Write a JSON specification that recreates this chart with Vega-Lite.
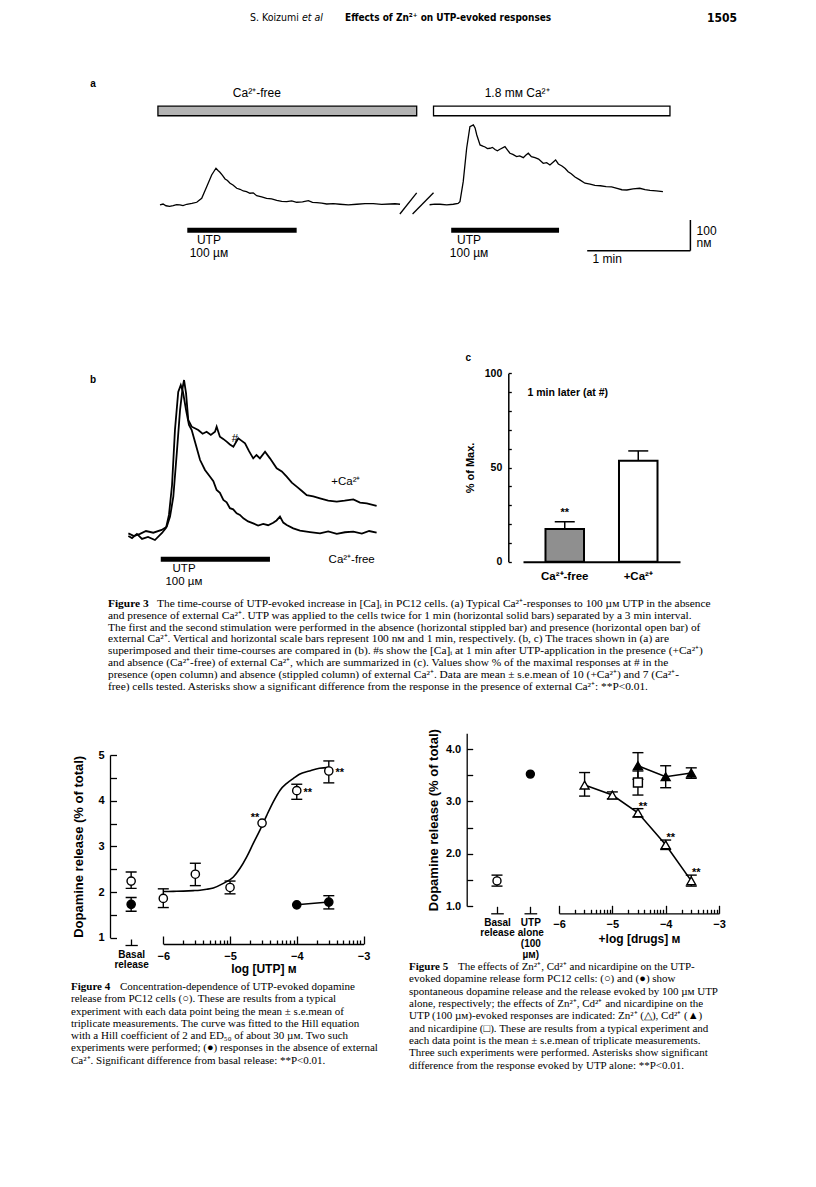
{
"$schema":"https://vega.github.io/schema/vega-lite/v6.json",
"width":816,"height":1187,"autosize":{"type":"none"},"padding":0,"background":"white",
"config":{"view":{"stroke":null},"mark":{"color":"black"},"point":{"opacity":1},"tick":{"opacity":1},
"text":{"font":"Liberation Sans","fontSize":11,"color":"black"},
"axis":{"grid":false,"domainColor":"black","domainWidth":1.3,"tickColor":"black","tickWidth":1.3,"labelColor":"black","labelFont":"Liberation Sans","labelFontWeight":"bold","labelFontSize":11,"titleFont":"Liberation Sans","titleFontWeight":"bold","titleFontSize":12,"titleColor":"black","labelOverlap":false,"labelFlush":false}},
"resolve":{"scale":{"x":"independent","y":"independent","fill":"independent","shape":"independent"},"axis":{"x":"independent","y":"independent"}},
"datasets":{
"tr3a":[
{"s":"1","t":0,"c":78.4},{"s":"1","t":1.8,"c":81.5},{"s":"1","t":3.5,"c":75.8},{"s":"1","t":5.6,"c":73.9},{"s":"1","t":7.7,"c":76.1},{"s":"1","t":9.7,"c":79.5},{"s":"1","t":11.6,"c":78.7},{"s":"1","t":13.4,"c":76.5},{"s":"1","t":15.6,"c":80.7},{"s":"1","t":18.6,"c":83.3},{"s":"1","t":21.4,"c":87.2},{"s":"1","t":24.3,"c":100.2},{"s":"1","t":27.2,"c":138},{"s":"1","t":30.1,"c":176.1},{"s":"1","t":32.6,"c":197.9},{"s":"1","t":33.8,"c":190.7},{"s":"1","t":34.9,"c":184.9},{"s":"1","t":36.4,"c":174.5},{"s":"1","t":37.9,"c":163.1},{"s":"1","t":39.3,"c":158.2},{"s":"1","t":40.8,"c":149.1},{"s":"1","t":42.5,"c":143.5},{"s":"1","t":44.7,"c":132.8},{"s":"1","t":46.6,"c":129.5},{"s":"1","t":48.5,"c":124},{"s":"1","t":50.4,"c":121.8},{"s":"1","t":52.4,"c":116.5},{"s":"1","t":54.3,"c":117.9},{"s":"1","t":56.3,"c":108.7},{"s":"1","t":59.2,"c":104.9},{"s":"1","t":62.1,"c":100.2},{"s":"1","t":65,"c":98.1},{"s":"1","t":68,"c":93.7},{"s":"1","t":70.9,"c":90.4},{"s":"1","t":73.8,"c":89.1},{"s":"1","t":76.7,"c":91.5},{"s":"1","t":79.6,"c":87.2},{"s":"1","t":83,"c":88.6},{"s":"1","t":86.4,"c":92.4},{"s":"1","t":88.8,"c":86.8},{"s":"1","t":91.3,"c":85.9},{"s":"1","t":94.2,"c":84.2},{"s":"1","t":97.1,"c":81.6},{"s":"1","t":101,"c":82.9},{"s":"1","t":104.8,"c":80.7},{"s":"1","t":109.7,"c":78.4},{"s":"1","t":114.6,"c":80.7},{"s":"1","t":119.4,"c":82.9},{"s":"1","t":124.2,"c":82.6},{"s":"1","t":129.1,"c":80.1},{"s":"1","t":134,"c":81.6},{"s":"1","t":136.9,"c":82.4},{"s":"1","t":139.8,"c":80.7},
{"s":"2","t":157,"c":79.1},{"s":"2","t":160,"c":81},{"s":"2","t":163.1,"c":80.7},{"s":"2","t":167,"c":78.9},{"s":"2","t":170.8,"c":80.7},{"s":"2","t":173.6,"c":83.3},{"s":"2","t":174.7,"c":89.1},{"s":"2","t":176.6,"c":154.3},{"s":"2","t":178.6,"c":263.1},{"s":"2","t":180.5,"c":333.4},{"s":"2","t":182.5,"c":339},{"s":"2","t":183.5,"c":329.2},{"s":"2","t":184.5,"c":306.4},{"s":"2","t":186.4,"c":273.8},{"s":"2","t":188,"c":270},{"s":"2","t":189.3,"c":267.3},{"s":"2","t":190.7,"c":262},{"s":"2","t":192.2,"c":263.1},{"s":"2","t":193.6,"c":266},{"s":"2","t":195.1,"c":259.2},{"s":"2","t":196.5,"c":255},{"s":"2","t":198,"c":259.8},{"s":"2","t":200.9,"c":268.3},{"s":"2","t":202.3,"c":258},{"s":"2","t":203.8,"c":246.8},{"s":"2","t":205.5,"c":243},{"s":"2","t":207.7,"c":235.7},{"s":"2","t":209.5,"c":238},{"s":"2","t":211.6,"c":232.4},{"s":"2","t":213,"c":240},{"s":"2","t":214.5,"c":246.8},{"s":"2","t":216.3,"c":236},{"s":"2","t":218.4,"c":232.4},{"s":"2","t":220.5,"c":228},{"s":"2","t":223.2,"c":214.2},{"s":"2","t":225.2,"c":216},{"s":"2","t":227.1,"c":208.7},{"s":"2","t":230.4,"c":225},{"s":"2","t":232,"c":212},{"s":"2","t":234.1,"c":205.4},{"s":"2","t":236,"c":197},{"s":"2","t":237.7,"c":186.8},{"s":"2","t":239.5,"c":180},{"s":"2","t":241.7,"c":169.6},{"s":"2","t":244.5,"c":160},{"s":"2","t":247.5,"c":149.1},{"s":"2","t":250.5,"c":146},{"s":"2","t":253.3,"c":141.9},{"s":"2","t":256.5,"c":141},{"s":"2","t":259.8,"c":138},{"s":"2","t":263,"c":137},{"s":"2","t":266.2,"c":132.1},{"s":"2","t":269,"c":128},{"s":"2","t":271.9,"c":127.2},{"s":"2","t":275.5,"c":131},{"s":"2","t":279.4,"c":132.8},{"s":"2","t":282.5,"c":128},{"s":"2","t":285.4,"c":125.6},{"s":"2","t":289,"c":124},{"s":"2","t":292.9,"c":121.7}],
"tr3b":[
{"s":"p","t":0.2,"p":1.1},{"s":"p","t":3.3,"p":-0.7},{"s":"p","t":6.6,"p":0.7},{"s":"p","t":9.9,"p":2.6},{"s":"p","t":13.9,"p":1.5},{"s":"p","t":18.5,"p":3.3},{"s":"p","t":21.3,"p":5.4},{"s":"p","t":23.1,"p":12},{"s":"p","t":24.9,"p":25},{"s":"p","t":26.8,"p":53.4},{"s":"p","t":28.6,"p":81.7},{"s":"p","t":30.1,"p":96.9},{"s":"p","t":30.8,"p":101.3},{"s":"p","t":31.9,"p":92.6},{"s":"p","t":33.1,"p":75.2},{"s":"p","t":35,"p":70.8},{"s":"p","t":38.6,"p":68.6},{"s":"p","t":41,"p":66.2},{"s":"p","t":43.2,"p":67.5},{"s":"p","t":45.5,"p":65.4},{"s":"p","t":47.8,"p":67.5},{"s":"p","t":48.7,"p":70.8},{"s":"p","t":50.5,"p":64.2},{"s":"p","t":52.3,"p":62.8},{"s":"p","t":54.2,"p":61},{"s":"p","t":56,"p":59.2},{"s":"p","t":57.9,"p":57.7},{"s":"p","t":60.6,"p":63.2},{"s":"p","t":62.5,"p":61.5},{"s":"p","t":64.3,"p":59.9},{"s":"p","t":66.5,"p":54.8},{"s":"p","t":68.8,"p":50.1},{"s":"p","t":70.6,"p":52.3},{"s":"p","t":72.5,"p":50.1},{"s":"p","t":75.3,"p":54.4},{"s":"p","t":78,"p":50.1},{"s":"p","t":81.7,"p":43.6},{"s":"p","t":84.5,"p":41.5},{"s":"p","t":87.2,"p":38.1},{"s":"p","t":90,"p":34.2},{"s":"p","t":92.7,"p":31.6},{"s":"p","t":95.4,"p":28.9},{"s":"p","t":98.2,"p":26.1},{"s":"p","t":101.8,"p":25.2},{"s":"p","t":105.5,"p":24},{"s":"p","t":110,"p":22.5},{"s":"p","t":114.7,"p":21.8},{"s":"p","t":119,"p":22.4},{"s":"p","t":123.8,"p":23.3},{"s":"p","t":127.5,"p":21.2},{"s":"p","t":131.2,"p":20.7},{"s":"p","t":136.6,"p":19},
{"s":"f","t":0.2,"p":-0.7},{"s":"f","t":2.2,"p":-2},{"s":"f","t":4.9,"p":0.7},{"s":"f","t":7.7,"p":-2.6},{"s":"f","t":11,"p":-1.3},{"s":"f","t":14.8,"p":-3.3},{"s":"f","t":18.7,"p":1.3},{"s":"f","t":20.9,"p":4.6},{"s":"f","t":22.5,"p":13.1},{"s":"f","t":24.2,"p":32.7},{"s":"f","t":25.8,"p":68.6},{"s":"f","t":27.6,"p":93.5},{"s":"f","t":29,"p":98},{"s":"f","t":30.2,"p":93.5},{"s":"f","t":31.9,"p":81.7},{"s":"f","t":33.5,"p":71.9},{"s":"f","t":35,"p":68.6},{"s":"f","t":36.8,"p":61},{"s":"f","t":39.6,"p":49},{"s":"f","t":42.3,"p":42.5},{"s":"f","t":45.1,"p":38.1},{"s":"f","t":46.9,"p":35.2},{"s":"f","t":48.7,"p":29.4},{"s":"f","t":50.5,"p":27.5},{"s":"f","t":52.4,"p":22.9},{"s":"f","t":54.2,"p":21.4},{"s":"f","t":56,"p":17.5},{"s":"f","t":57.8,"p":16.8},{"s":"f","t":59.7,"p":14.2},{"s":"f","t":61.5,"p":13.1},{"s":"f","t":63.4,"p":10.9},{"s":"f","t":66,"p":8.9},{"s":"f","t":68.8,"p":7.6},{"s":"f","t":71.5,"p":6.2},{"s":"f","t":74.3,"p":7.2},{"s":"f","t":77,"p":6.4},{"s":"f","t":79.8,"p":8},{"s":"f","t":81.6,"p":9.5},{"s":"f","t":83.5,"p":12},{"s":"f","t":85.3,"p":8.1},{"s":"f","t":87.2,"p":6.5},{"s":"f","t":90.8,"p":4.3},{"s":"f","t":94.5,"p":2.8},{"s":"f","t":100,"p":1.9},{"s":"f","t":105.5,"p":1.1},{"s":"f","t":110,"p":2.4},{"s":"f","t":114.7,"p":0.7},{"s":"f","t":119.2,"p":1.8},{"s":"f","t":123.8,"p":2.2},{"s":"f","t":128.5,"p":0.9},{"s":"f","t":132.5,"p":2.6},{"s":"f","t":136.6,"p":1.5}],
"f3c":[{"cond":"Ca²⁺-free","v":17.4,"hi":21.2,"sig":"**"},{"cond":"+Ca²⁺","v":53.6,"hi":58.8,"sig":""}],
"f4":[
{"grp":"open","logc":-6,"v":1.86,"lo":1.66,"hi":2.07},
{"grp":"open","logc":-5.52,"v":2.39,"lo":2.14,"hi":2.63},
{"grp":"open","logc":-5,"v":2.10,"lo":1.96,"hi":2.24},
{"grp":"open","logc":-4.52,"v":3.51,"lo":3.51,"hi":3.51,"sig":"**"},
{"grp":"open","logc":-4,"v":4.22,"lo":4.03,"hi":4.36,"sig":"**"},
{"grp":"open","logc":-3.52,"v":4.65,"lo":4.39,"hi":4.87,"sig":"**"},
{"grp":"filled","logc":-4,"v":1.72,"lo":1.72,"hi":1.72},
{"grp":"filled","logc":-3.52,"v":1.78,"lo":1.63,"hi":1.92}],
"f4basal":[{"k":"Basal release","grp":"open","v":2.24,"lo":2.08,"hi":2.44},{"k":"Basal release","grp":"filled","v":1.73,"lo":1.58,"hi":1.88}],
"f4curve":[{"logc":-6,"v":2.01},{"logc":-5.85,"v":2.015},{"logc":-5.7,"v":2.02},{"logc":-5.55,"v":2.03},{"logc":-5.45,"v":2.04},{"logc":-5.35,"v":2.06},{"logc":-5.25,"v":2.09},{"logc":-5.1,"v":2.19},{"logc":-4.95,"v":2.33},{"logc":-4.85,"v":2.52},{"logc":-4.75,"v":2.77},{"logc":-4.65,"v":3.07},{"logc":-4.55,"v":3.36},{"logc":-4.45,"v":3.68},{"logc":-4.35,"v":3.98},{"logc":-4.25,"v":4.23},{"logc":-4.15,"v":4.38},{"logc":-4.05,"v":4.49},{"logc":-3.96,"v":4.58},{"logc":-3.81,"v":4.65},{"logc":-3.66,"v":4.71},{"logc":-3.51,"v":4.73}],
"f5":[
{"grp":"zn","logc":-5.52,"v":3.31,"lo":3.10,"hi":3.55},
{"grp":"zn","logc":-5,"v":3.12,"lo":3.05,"hi":3.18},
{"grp":"zn","logc":-4.52,"v":2.78,"lo":2.70,"hi":2.86,"sig":"**"},
{"grp":"zn","logc":-4,"v":2.17,"lo":2.08,"hi":2.26,"sig":"**"},
{"grp":"zn","logc":-3.52,"v":1.48,"lo":1.38,"hi":1.59,"sig":"**"},
{"grp":"cd","logc":-4.52,"v":3.68,"lo":3.42,"hi":3.93},
{"grp":"cd","logc":-4,"v":3.47,"lo":3.26,"hi":3.68},
{"grp":"cd","logc":-3.52,"v":3.54,"lo":3.44,"hi":3.64},
{"grp":"nic","logc":-4.52,"v":3.36,"lo":3.12,"hi":3.58}],
"cap3":[
{"c":"3","line":1,"text":"The time-course of UTP-evoked increase in [Ca]ᵢ in PC12 cells. (a) Typical Ca²⁺-responses to 100 µᴍ UTP in the absence"},
{"c":"3","line":2,"text":"and presence of external Ca²⁺. UTP was applied to the cells twice for 1 min (horizontal solid bars) separated by a 3 min interval."},
{"c":"3","line":3,"text":"The first and the second stimulation were performed in the absence (horizontal stippled bar) and presence (horizontal open bar) of"},
{"c":"3","line":4,"text":"external Ca²⁺. Vertical and horizontal scale bars represent 100 nᴍ and 1 min, respectively. (b, c) The traces shown in (a) are"},
{"c":"3","line":5,"text":"superimposed and their time-courses are compared in (b). #s show the [Ca]ᵢ at 1 min after UTP-application in the presence (+Ca²⁺)"},
{"c":"3","line":6,"text":"and absence (Ca²⁺-free) of external Ca²⁺, which are summarized in (c). Values show % of the maximal responses at # in the"},
{"c":"3","line":7,"text":"presence (open column) and absence (stippled column) of external Ca²⁺. Data are mean ± s.e.mean of 10 (+Ca²⁺) and 7 (Ca²⁺-"},
{"c":"3","line":8,"text":"free) cells tested. Asterisks show a significant difference from the response in the presence of external Ca²⁺: **P<0.01."}],
"cap4":[
{"c":"4","line":1,"text":"Concentration-dependence of UTP-evoked dopamine"},
{"c":"4","line":2,"text":"release from PC12 cells (○). These are results from a typical"},
{"c":"4","line":3,"text":"experiment with each data point being the mean ± s.e.mean of"},
{"c":"4","line":4,"text":"triplicate measurements. The curve was fitted to the Hill equation"},
{"c":"4","line":5,"text":"with a Hill coefficient of 2 and ED₅₀ of about 30 µᴍ. Two such"},
{"c":"4","line":6,"text":"experiments were performed; (●) responses in the absence of external"},
{"c":"4","line":7,"text":"Ca²⁺. Significant difference from basal release: **P<0.01."}],
"cap5":[
{"c":"5","line":1,"text":"The effects of Zn²⁺, Cd²⁺ and nicardipine on the UTP-"},
{"c":"5","line":2,"text":"evoked dopamine release form PC12 cells: (○) and (●) show"},
{"c":"5","line":3,"text":"spontaneous dopamine release and the release evoked by 100 µᴍ UTP"},
{"c":"5","line":4,"text":"alone, respectively; the effects of Zn²⁺, Cd²⁺ and nicardipine on the"},
{"c":"5","line":5,"text":"UTP (100 µᴍ)-evoked responses are indicated: Zn²⁺ (△), Cd²⁺ (▲)"},
{"c":"5","line":6,"text":"and nicardipine (□). These are results from a typical experiment and"},
{"c":"5","line":7,"text":"each data point is the mean ± s.e.mean of triplicate measurements."},
{"c":"5","line":8,"text":"Three such experiments were performed. Asterisks show significant"},
{"c":"5","line":9,"text":"difference from the response evoked by UTP alone: **P<0.01."}]
},
"layer":[
{"data":{"values":[{"k":"h","t":"S. Koizumi"}]},"mark":{"type":"text","align":"left","baseline":"middle","font":"Liberation Sans Narrow, DejaVu Sans Condensed, Liberation Sans","fontSize":10.5},
 "encoding":{"x":{"field":"k","type":"nominal","scale":{"type":"point","range":[250,250]},"axis":null},"y":{"field":"k","type":"nominal","scale":{"type":"point","range":[18,18]},"axis":null},"text":{"field":"t"}}},
{"data":{"values":[{"k":"h","t":"et al"}]},"mark":{"type":"text","align":"left","baseline":"middle","font":"Liberation Sans Narrow, DejaVu Sans Condensed, Liberation Sans","fontSize":10.5,"fontStyle":"italic"},
 "encoding":{"x":{"field":"k","type":"nominal","scale":{"type":"point","range":[302,302]},"axis":null},"y":{"field":"k","type":"nominal","scale":{"type":"point","range":[18,18]},"axis":null},"text":{"field":"t"}}},
{"data":{"values":[{"k":"h","t":"Effects of Zn²⁺ on UTP-evoked responses"}]},"mark":{"type":"text","align":"left","baseline":"middle","font":"Liberation Sans Narrow, DejaVu Sans Condensed, Liberation Sans","fontSize":10,"fontWeight":"bold"},
 "encoding":{"x":{"field":"k","type":"nominal","scale":{"type":"point","range":[345,345]},"axis":null},"y":{"field":"k","type":"nominal","scale":{"type":"point","range":[18,18]},"axis":null},"text":{"field":"t"}}},
{"data":{"values":[{"k":"h","t":"1505"}]},"mark":{"type":"text","align":"right","baseline":"middle","font":"Liberation Sans Narrow, DejaVu Sans Condensed, Liberation Sans","fontSize":12,"fontWeight":"bold"},
 "encoding":{"x":{"field":"k","type":"nominal","scale":{"type":"point","range":[737,737]},"axis":null},"y":{"field":"k","type":"nominal","scale":{"type":"point","range":[18,18]},"axis":null},"text":{"field":"t"}}},

{"data":{"values":[{"sol":"Ca²⁺-free","t1":-1.2,"t2":149.5,"c1":369,"c2":400},{"sol":"1.8 mᴍ Ca²⁺","t1":159.3,"t2":297,"c1":369,"c2":400}]},
 "mark":{"type":"rect","stroke":"black","strokeWidth":1.3},
 "encoding":{"x":{"field":"t1","type":"quantitative","scale":{"domain":[-40,340],"range":[91.3,743.8],"nice":false,"zero":false},"axis":null},"x2":{"field":"t2"},
 "y":{"field":"c1","type":"quantitative","scale":{"domain":[-80,460],"range":[253.6,87.8],"nice":false,"zero":false},"axis":null},"y2":{"field":"c2"},
 "fill":{"field":"sol","type":"nominal","scale":{"domain":["Ca²⁺-free","1.8 mᴍ Ca²⁺"],"range":["#b3b3b3","white"]},"legend":null}}},
{"data":{"name":"tr3a"},"mark":{"type":"line","strokeWidth":1.3,"color":"black"},
 "encoding":{"x":{"field":"t","type":"quantitative","scale":{"domain":[-40,340],"range":[91.3,743.8],"nice":false,"zero":false},"axis":null},
 "y":{"field":"c","type":"quantitative","scale":{"domain":[-80,460],"range":[253.6,87.8],"nice":false,"zero":false},"axis":null},"detail":{"field":"s"}}},
{"data":{"values":[{"t1":139.7,"t2":149.5,"c1":49,"c2":118},{"t1":147.1,"t2":159.3,"c1":49,"c2":118}]},"mark":{"type":"rule","strokeWidth":1.3},
 "encoding":{"x":{"field":"t1","type":"quantitative","scale":{"domain":[-40,340],"range":[91.3,743.8],"nice":false,"zero":false},"axis":null},"x2":{"field":"t2"},
 "y":{"field":"c1","type":"quantitative","scale":{"domain":[-80,460],"range":[253.6,87.8],"nice":false,"zero":false},"axis":null},"y2":{"field":"c2"}}},
{"data":{"values":[{"t1":15.9,"t2":79.6,"c1":-11.9,"c2":4.4},{"t1":169.6,"t2":232.4,"c1":-11.9,"c2":4.4}]},"mark":{"type":"rect","color":"black"},
 "encoding":{"x":{"field":"t1","type":"quantitative","scale":{"domain":[-40,340],"range":[91.3,743.8],"nice":false,"zero":false},"axis":null},"x2":{"field":"t2"},
 "y":{"field":"c1","type":"quantitative","scale":{"domain":[-80,460],"range":[253.6,87.8],"nice":false,"zero":false},"axis":null},"y2":{"field":"c2"}}},
{"data":{"values":[{"t":56.4,"c":443,"text":"Ca²⁺-free"},{"t":208,"c":443,"text":"1.8 mᴍ Ca²⁺"},{"t":28.5,"c":-35.6,"text":"UTP"},{"t":28.5,"c":-77,"text":"100 µᴍ"},{"t":180,"c":-35.6,"text":"UTP"},{"t":180,"c":-77,"text":"100 µᴍ"}]},
 "mark":{"type":"text","align":"center","baseline":"middle","fontSize":12},
 "encoding":{"x":{"field":"t","type":"quantitative","scale":{"domain":[-40,340],"range":[91.3,743.8],"nice":false,"zero":false},"axis":null},
 "y":{"field":"c","type":"quantitative","scale":{"domain":[-80,460],"range":[253.6,87.8],"nice":false,"zero":false},"axis":null},"text":{"field":"text"}}},
{"data":{"values":[{"t1":308.9,"t2":308.9,"c1":-70.5,"c2":29.5},{"t1":248.8,"t2":308.9,"c1":-70.5,"c2":-70.5}]},"mark":{"type":"rule","strokeWidth":1.5},
 "encoding":{"x":{"field":"t1","type":"quantitative","scale":{"domain":[-40,340],"range":[91.3,743.8],"nice":false,"zero":false},"axis":null},"x2":{"field":"t2"},
 "y":{"field":"c1","type":"quantitative","scale":{"domain":[-80,460],"range":[253.6,87.8],"nice":false,"zero":false},"axis":null},"y2":{"field":"c2"}}},
{"data":{"values":[{"t":312.5,"c":-5.3,"text":"100"},{"t":312.5,"c":-44.4,"text":"nᴍ"},{"t":251.9,"c":-98.5,"text":"1 min"}]},
 "mark":{"type":"text","align":"left","baseline":"middle","fontSize":12},
 "encoding":{"x":{"field":"t","type":"quantitative","scale":{"domain":[-40,340],"range":[91.3,743.8],"nice":false,"zero":false},"axis":null},
 "y":{"field":"c","type":"quantitative","scale":{"domain":[-80,460],"range":[253.6,87.8],"nice":false,"zero":false},"axis":null},"text":{"field":"text"}}},
{"data":{"values":[{"t":-39,"c":472.5,"text":"a"}]},"mark":{"type":"text","align":"center","baseline":"middle","fontSize":10,"fontWeight":"bold"},
 "encoding":{"x":{"field":"t","type":"quantitative","scale":{"domain":[-40,340],"range":[91.3,743.8],"nice":false,"zero":false},"axis":null},
 "y":{"field":"c","type":"quantitative","scale":{"domain":[-80,460],"range":[253.6,87.8],"nice":false,"zero":false},"axis":null},"text":{"field":"text"}}},

{"data":{"name":"tr3b"},"mark":{"type":"line","strokeWidth":1.8,"color":"black"},
 "encoding":{"x":{"field":"t","type":"quantitative","scale":{"domain":[-10,150],"range":[109.8,401],"nice":false,"zero":false},"axis":null},
 "y":{"field":"p","type":"quantitative","scale":{"domain":[-30,110],"range":[580.9,366.7],"nice":false,"zero":false},"axis":null},"detail":{"field":"s"}}},
{"data":{"values":[{"t1":18,"t2":78,"p1":-17.5,"p2":-14.2}]},"mark":{"type":"rect","color":"black"},
 "encoding":{"x":{"field":"t1","type":"quantitative","scale":{"domain":[-10,150],"range":[109.8,401],"nice":false,"zero":false},"axis":null},"x2":{"field":"t2"},
 "y":{"field":"p1","type":"quantitative","scale":{"domain":[-30,110],"range":[580.9,366.7],"nice":false,"zero":false},"axis":null},"y2":{"field":"p2"}}},
{"data":{"values":[{"t":30.8,"p":-22.4,"text":"UTP"},{"t":30.7,"p":-30.6,"text":"100 µᴍ"},{"t":119.7,"p":34.8,"text":"+Ca²⁺"},{"t":122.9,"p":-16.3,"text":"Ca²⁺-free"},{"t":58.8,"p":63,"text":"#"}]},
 "mark":{"type":"text","align":"center","baseline":"middle","fontSize":11.5},
 "encoding":{"x":{"field":"t","type":"quantitative","scale":{"domain":[-10,150],"range":[109.8,401],"nice":false,"zero":false},"axis":null},
 "y":{"field":"p","type":"quantitative","scale":{"domain":[-30,110],"range":[580.9,366.7],"nice":false,"zero":false},"axis":null},"text":{"field":"text"}}},
{"data":{"values":[{"t":-19.2,"p":101.3,"text":"b"}]},"mark":{"type":"text","align":"center","baseline":"middle","fontSize":10,"fontWeight":"bold"},
 "encoding":{"x":{"field":"t","type":"quantitative","scale":{"domain":[-10,150],"range":[109.8,401],"nice":false,"zero":false},"axis":null},
 "y":{"field":"p","type":"quantitative","scale":{"domain":[-30,110],"range":[580.9,366.7],"nice":false,"zero":false},"axis":null},"text":{"field":"text"}}},

{"data":{"name":"f3c"},
 "mark":{"type":"bar","stroke":"black","strokeWidth":2},
 "encoding":{"x":{"field":"cond","type":"nominal","sort":null,"scale":{"type":"band","domain":["Ca²⁺-free","+Ca²⁺"],"range":[523,680],"paddingInner":0.476,"paddingOuter":0.306},
   "axis":{"orient":"bottom","offset":-625.3,"title":null,"ticks":false,"domainWidth":2,"labelPadding":9,"labelAngle":0,"labelFontSize":11.5}},
 "y":{"field":"v","type":"quantitative","scale":{"domain":[0,100],"range":[561.7,373.3],"nice":false},
   "axis":{"orient":"left","offset":-508.3,"values":[0,10,20,30,40,50,60,70,80,90,100],"tickSize":-3,"labelPadding":9.5,"labelFontSize":10.5,"labelExpr":"datum.value % 50 === 0 ? datum.label : ''","title":"% of Max.","titleFontSize":11,"titlePadding":9,"domainWidth":1.5}},
 "fill":{"field":"cond","type":"nominal","scale":{"domain":["Ca²⁺-free","+Ca²⁺"],"range":["#8f8f8f","white"]},"legend":null}}},
{"data":{"name":"f3c"},
 "mark":{"type":"rule","strokeWidth":1.5},
 "encoding":{"x":{"field":"cond","type":"nominal","sort":null,"scale":{"type":"band","domain":["Ca²⁺-free","+Ca²⁺"],"range":[523,680],"paddingInner":0.476,"paddingOuter":0.306},"axis":null},
 "y":{"field":"v","type":"quantitative","scale":{"domain":[0,100],"range":[561.7,373.3],"nice":false},"axis":null},"y2":{"field":"hi"}}},
{"data":{"name":"f3c"},
 "mark":{"type":"tick","orient":"horizontal","size":20,"thickness":1.5},
 "encoding":{"x":{"field":"cond","type":"nominal","sort":null,"scale":{"type":"band","domain":["Ca²⁺-free","+Ca²⁺"],"range":[523,680],"paddingInner":0.476,"paddingOuter":0.306},"axis":null},
 "y":{"field":"hi","type":"quantitative","scale":{"domain":[0,100],"range":[561.7,373.3],"nice":false},"axis":null}}},
{"data":{"name":"f3c"},
 "mark":{"type":"text","align":"center","baseline":"alphabetic","dy":-6,"fontSize":11,"fontWeight":"bold"},
 "encoding":{"x":{"field":"cond","type":"nominal","sort":null,"scale":{"type":"band","domain":["Ca²⁺-free","+Ca²⁺"],"range":[523,680],"paddingInner":0.476,"paddingOuter":0.306},"axis":null},
 "y":{"field":"hi","type":"quantitative","scale":{"domain":[0,100],"range":[561.7,373.3],"nice":false},"axis":null},"text":{"field":"sig"}}},
{"data":{"values":[{"cond":"Ca²⁺-free","v":89.6,"text":"1 min later (at #)"}]},
 "mark":{"type":"text","align":"left","baseline":"middle","dx":-37.3,"fontSize":10.5,"fontWeight":"bold"},
 "encoding":{"x":{"field":"cond","type":"nominal","sort":null,"scale":{"type":"band","domain":["Ca²⁺-free","+Ca²⁺"],"range":[523,680],"paddingInner":0.476,"paddingOuter":0.306},"axis":null},
 "y":{"field":"v","type":"quantitative","scale":{"domain":[0,100],"range":[561.7,373.3],"nice":false},"axis":null},"text":{"field":"text"}}},
{"data":{"values":[{"cond":"Ca²⁺-free","v":108.1,"text":"c"}]},
 "mark":{"type":"text","align":"center","baseline":"middle","dx":-96.5,"fontSize":10,"fontWeight":"bold"},
 "encoding":{"x":{"field":"cond","type":"nominal","sort":null,"scale":{"type":"band","domain":["Ca²⁺-free","+Ca²⁺"],"range":[523,680],"paddingInner":0.476,"paddingOuter":0.306},"axis":null},
 "y":{"field":"v","type":"quantitative","scale":{"domain":[0,100],"range":[561.7,373.3],"nice":false},"axis":null},"text":{"field":"text"}}},

{"data":{"values":[{"c":"3","line":1,"text":"Figure 3"}]},"mark":{"type":"text","align":"left","baseline":"middle","font":"Liberation Serif","fontSize":11.4,"fontWeight":"bold"},
 "encoding":{"x":{"field":"c","type":"nominal","scale":{"type":"point","range":[108,108]},"axis":null},"y":{"field":"line","type":"quantitative","scale":{"domain":[1,8],"range":[604,686.8]},"axis":null},"text":{"field":"text"}}},
{"data":{"name":"cap3"},"transform":[{"filter":"datum.line == 1"}],"mark":{"type":"text","align":"left","baseline":"middle","font":"Liberation Serif","fontSize":11.4,"dx":49},
 "encoding":{"x":{"field":"c","type":"nominal","scale":{"type":"point","range":[108,108]},"axis":null},"y":{"field":"line","type":"quantitative","scale":{"domain":[1,8],"range":[604,686.8]},"axis":null},"text":{"field":"text"}}},
{"data":{"name":"cap3"},"transform":[{"filter":"datum.line > 1"}],"mark":{"type":"text","align":"left","baseline":"middle","font":"Liberation Serif","fontSize":11.4},
 "encoding":{"x":{"field":"c","type":"nominal","scale":{"type":"point","range":[108,108]},"axis":null},"y":{"field":"line","type":"quantitative","scale":{"domain":[1,8],"range":[604,686.8]},"axis":null},"text":{"field":"text"}}},

{"data":{"name":"f4curve"},"mark":{"type":"line","strokeWidth":1.6,"color":"black","interpolate":"monotone"},
 "encoding":{"x":{"field":"logc","type":"quantitative","scale":{"domain":[-6,-3],"range":[163.3,363.5],"nice":false,"zero":false},
   "axis":{"orient":"bottom","offset":-243,"values":[-5.699,-5.523,-5.398,-5.301,-5.222,-5.155,-5.097,-5.046,-4.699,-4.523,-4.398,-4.301,-4.222,-4.155,-4.097,-4.046,-3.699,-3.523,-3.398,-3.301,-3.222,-3.155,-3.097,-3.046],"tickSize":-4,"labels":false,"domain":false,"title":null}},
 "y":{"field":"v","type":"quantitative","scale":{"domain":[1,5],"range":[937.7,755],"nice":false,"zero":false},
   "axis":{"orient":"left","offset":-110,"values":[1,1.5,2,2.5,3,3.5,4,4.5,5],"tickSize":-6.5,"labelPadding":12.5,"format":".1f","labelExpr":"datum.value % 1 === 0 ? format(datum.value, 'd') : ''","title":"Dopamine release (% of total)","titleFontSize":13,"titlePadding":12}}}},
{"data":{"name":"f4"},"transform":[{"filter":"datum.grp == 'filled'"}],"mark":{"type":"line","strokeWidth":1.6,"color":"black"},
 "encoding":{"x":{"field":"logc","type":"quantitative","scale":{"domain":[-6,-3],"range":[163.3,363.5],"nice":false,"zero":false},"axis":null},
 "y":{"field":"v","type":"quantitative","scale":{"domain":[1,5],"range":[937.7,755],"nice":false,"zero":false},"axis":null}}},
{"data":{"name":"f4"},"transform":[{"filter":"datum.hi > datum.lo"}],"mark":{"type":"errorbar","ticks":{"size":11},"thickness":1.4,"color":"black"},
 "encoding":{"x":{"field":"logc","type":"quantitative","scale":{"domain":[-6,-3],"range":[163.3,363.5],"nice":false,"zero":false},"axis":null},
 "y":{"field":"lo","type":"quantitative","scale":{"domain":[1,5],"range":[937.7,755],"nice":false,"zero":false},"axis":null},"y2":{"field":"hi"}}},
{"data":{"name":"f4"},"mark":{"type":"point","filled":true,"stroke":"black","strokeWidth":1.4,"size":68,"opacity":1},
 "encoding":{"x":{"field":"logc","type":"quantitative","scale":{"domain":[-6,-3],"range":[163.3,363.5],"nice":false,"zero":false},
   "axis":{"orient":"bottom","offset":-243,"values":[-6,-5,-4,-3],"format":"d","tickSize":-8,"labelPadding":14,"labelFontSize":11,"title":"log [UTP] ᴍ","titlePadding":2,"titleFontSize":12}},
 "y":{"field":"v","type":"quantitative","scale":{"domain":[1,5],"range":[937.7,755],"nice":false,"zero":false},"axis":null},
 "fill":{"field":"grp","type":"nominal","scale":{"domain":["open","filled"],"range":["white","black"]},"legend":null},
 "shape":{"value":"circle"}}},
{"data":{"name":"f4"},"transform":[{"filter":"datum.sig == '**' && datum.logc > -4.3"}],"mark":{"type":"text","align":"center","baseline":"alphabetic","dx":11,"dy":5,"fontSize":11,"fontWeight":"bold"},
 "encoding":{"x":{"field":"logc","type":"quantitative","scale":{"domain":[-6,-3],"range":[163.3,363.5],"nice":false,"zero":false},"axis":null},
 "y":{"field":"v","type":"quantitative","scale":{"domain":[1,5],"range":[937.7,755],"nice":false,"zero":false},"axis":null},"text":{"field":"sig"}}},
{"data":{"name":"f4"},"transform":[{"filter":"datum.sig == '**' && datum.logc < -4.3"}],"mark":{"type":"text","align":"center","baseline":"alphabetic","dx":-7,"dy":-2.5,"fontSize":11,"fontWeight":"bold"},
 "encoding":{"x":{"field":"logc","type":"quantitative","scale":{"domain":[-6,-3],"range":[163.3,363.5],"nice":false,"zero":false},"axis":null},
 "y":{"field":"v","type":"quantitative","scale":{"domain":[1,5],"range":[937.7,755],"nice":false,"zero":false},"axis":null},"text":{"field":"sig"}}},
{"data":{"name":"f4basal"},"mark":{"type":"errorbar","ticks":{"size":11},"thickness":1.4,"color":"black"},
 "encoding":{"x":{"field":"k","type":"nominal","scale":{"type":"point","domain":["Basal release"],"range":[125,137.3]},"axis":null},
 "y":{"field":"lo","type":"quantitative","scale":{"domain":[1,5],"range":[937.7,755],"nice":false,"zero":false},"axis":null},"y2":{"field":"hi"}}},
{"data":{"name":"f4basal"},"mark":{"type":"point","filled":true,"stroke":"black","strokeWidth":1.4,"size":68,"opacity":1},
 "encoding":{"x":{"field":"k","type":"nominal","scale":{"type":"point","domain":["Basal release"],"range":[125,137.3]},
   "axis":{"orient":"bottom","offset":-242,"tickSize":-6,"labelPadding":10,"labelExpr":"split(datum.label, ' ')","labelLineHeight":10.5,"labelFontSize":10,"labelAngle":0,"title":null}},
 "y":{"field":"v","type":"quantitative","scale":{"domain":[1,5],"range":[937.7,755],"nice":false,"zero":false},"axis":null},
 "fill":{"field":"grp","type":"nominal","scale":{"domain":["open","filled"],"range":["white","black"]},"legend":null},
 "shape":{"value":"circle"}}},

{"data":{"values":[{"c":"4","line":1,"text":"Figure 4"}]},"mark":{"type":"text","align":"left","baseline":"middle","font":"Liberation Serif","fontSize":11,"fontWeight":"bold"},
 "encoding":{"x":{"field":"c","type":"nominal","scale":{"type":"point","range":[71,71]},"axis":null},"y":{"field":"line","type":"quantitative","scale":{"domain":[1,7],"range":[987,1060.5]},"axis":null},"text":{"field":"text"}}},
{"data":{"name":"cap4"},"transform":[{"filter":"datum.line == 1"}],"mark":{"type":"text","align":"left","baseline":"middle","font":"Liberation Serif","fontSize":11,"dx":49},
 "encoding":{"x":{"field":"c","type":"nominal","scale":{"type":"point","range":[71,71]},"axis":null},"y":{"field":"line","type":"quantitative","scale":{"domain":[1,7],"range":[987,1060.5]},"axis":null},"text":{"field":"text"}}},
{"data":{"name":"cap4"},"transform":[{"filter":"datum.line > 1"}],"mark":{"type":"text","align":"left","baseline":"middle","font":"Liberation Serif","fontSize":11},
 "encoding":{"x":{"field":"c","type":"nominal","scale":{"type":"point","range":[71,71]},"axis":null},"y":{"field":"line","type":"quantitative","scale":{"domain":[1,7],"range":[987,1060.5]},"axis":null},"text":{"field":"text"}}},

{"data":{"name":"f5"},"transform":[{"filter":"datum.grp != 'nic'"}],"mark":{"type":"line","strokeWidth":1.6,"color":"black"},
 "encoding":{"x":{"field":"logc","type":"quantitative","scale":{"domain":[-6,-3],"range":[559,719],"nice":false,"zero":false},
   "axis":{"orient":"bottom","offset":-273.7,"values":[-5.699,-5.523,-5.398,-5.301,-5.222,-5.155,-5.097,-5.046,-4.699,-4.523,-4.398,-4.301,-4.222,-4.155,-4.097,-4.046,-3.699,-3.523,-3.398,-3.301,-3.222,-3.155,-3.097,-3.046],"tickSize":-4,"labels":false,"domain":false,"title":null}},
 "y":{"field":"v","type":"quantitative","scale":{"domain":[1,4.3],"range":[906,733.3],"nice":false,"zero":false},
   "axis":{"orient":"left","offset":-466.7,"values":[1,1.5,2,2.5,3,3.5,4],"tickSize":-6,"labelPadding":12,"labelExpr":"datum.value % 1 === 0 ? format(datum.value, '.1f') : ''","title":"Dopamine release (% of total)","titleFontSize":13,"titlePadding":5}},
 "detail":{"field":"grp"}}},
{"data":{"name":"f5"},"mark":{"type":"errorbar","ticks":{"size":11},"thickness":1.4,"color":"black"},
 "encoding":{"x":{"field":"logc","type":"quantitative","scale":{"domain":[-6,-3],"range":[559,719],"nice":false,"zero":false},"axis":null},
 "y":{"field":"lo","type":"quantitative","scale":{"domain":[1,4.3],"range":[906,733.3],"nice":false,"zero":false},"axis":null},"y2":{"field":"hi"}}},
{"data":{"name":"f5"},"mark":{"type":"point","filled":true,"stroke":"black","strokeWidth":1.4,"size":80,"opacity":1},
 "encoding":{"x":{"field":"logc","type":"quantitative","scale":{"domain":[-6,-3],"range":[559,719],"nice":false,"zero":false},
   "axis":{"orient":"bottom","offset":-273.7,"values":[-6,-5,-4,-3],"format":"d","tickSize":-8,"labelPadding":13,"labelFontSize":11,"title":"+log [drugs] ᴍ","titlePadding":4,"titleFontSize":12}},
 "y":{"field":"v","type":"quantitative","scale":{"domain":[1,4.3],"range":[906,733.3],"nice":false,"zero":false},"axis":null},
 "fill":{"field":"grp","type":"nominal","scale":{"domain":["zn","cd","nic"],"range":["white","black","white"]},"legend":null},
 "shape":{"field":"grp","type":"nominal","scale":{"domain":["zn","cd","nic"],"range":["triangle-up","triangle-up","square"]},"legend":null}}},
{"data":{"name":"f5"},"transform":[{"filter":"datum.sig == '**'"}],"mark":{"type":"text","align":"center","baseline":"alphabetic","dx":5,"dy":1,"fontSize":11,"fontWeight":"bold"},
 "encoding":{"x":{"field":"logc","type":"quantitative","scale":{"domain":[-6,-3],"range":[559,719],"nice":false,"zero":false},"axis":null},
 "y":{"field":"hi","type":"quantitative","scale":{"domain":[1,4.3],"range":[906,733.3],"nice":false,"zero":false},"axis":null},"text":{"field":"sig"}}},
{"data":{"values":[{"k":"Basal release","v":1.48,"lo":1.38,"hi":1.59}]},"mark":{"type":"errorbar","ticks":{"size":11},"thickness":1.4,"color":"black"},
 "encoding":{"x":{"field":"k","type":"nominal","scale":{"type":"point","domain":["Basal release"],"range":[490.7,503.3]},"axis":null},
 "y":{"field":"lo","type":"quantitative","scale":{"domain":[1,4.3],"range":[906,733.3],"nice":false,"zero":false},"axis":null},"y2":{"field":"hi"}}},
{"data":{"values":[{"k":"Basal release","v":1.48}]},"mark":{"type":"point","filled":true,"fill":"white","stroke":"black","strokeWidth":1.4,"size":64,"opacity":1,"shape":"circle"},
 "encoding":{"x":{"field":"k","type":"nominal","scale":{"type":"point","domain":["Basal release"],"range":[490.7,503.3]},
   "axis":{"orient":"bottom","offset":-273.7,"tickSize":-7,"labelPadding":11,"labelExpr":"split(datum.label, ' ')","labelLineHeight":10.7,"labelFontSize":10,"labelAngle":0,"title":null}},
 "y":{"field":"v","type":"quantitative","scale":{"domain":[1,4.3],"range":[906,733.3],"nice":false,"zero":false},"axis":null}}},
{"data":{"values":[{"k":"UTP alone (100 µᴍ)","v":3.52}]},"mark":{"type":"point","filled":true,"fill":"black","stroke":"black","strokeWidth":1.4,"size":64,"opacity":1,"shape":"circle"},
 "encoding":{"x":{"field":"k","type":"nominal","scale":{"type":"point","domain":["UTP alone (100 µᴍ)"],"range":[524,536.7]},
   "axis":{"orient":"bottom","offset":-273.7,"tickSize":-7,"labelPadding":11,"labelExpr":"split(datum.label, ' ')","labelLineHeight":10.7,"labelFontSize":10,"labelAngle":0,"title":null}},
 "y":{"field":"v","type":"quantitative","scale":{"domain":[1,4.3],"range":[906,733.3],"nice":false,"zero":false},"axis":null}}},

{"data":{"values":[{"c":"5","line":1,"text":"Figure 5"}]},"mark":{"type":"text","align":"left","baseline":"middle","font":"Liberation Serif","fontSize":11,"fontWeight":"bold"},
 "encoding":{"x":{"field":"c","type":"nominal","scale":{"type":"point","range":[409,409]},"axis":null},"y":{"field":"line","type":"quantitative","scale":{"domain":[1,9],"range":[967,1065.5]},"axis":null},"text":{"field":"text"}}},
{"data":{"name":"cap5"},"transform":[{"filter":"datum.line == 1"}],"mark":{"type":"text","align":"left","baseline":"middle","font":"Liberation Serif","fontSize":11,"dx":49},
 "encoding":{"x":{"field":"c","type":"nominal","scale":{"type":"point","range":[409,409]},"axis":null},"y":{"field":"line","type":"quantitative","scale":{"domain":[1,9],"range":[967,1065.5]},"axis":null},"text":{"field":"text"}}},
{"data":{"name":"cap5"},"transform":[{"filter":"datum.line > 1"}],"mark":{"type":"text","align":"left","baseline":"middle","font":"Liberation Serif","fontSize":11},
 "encoding":{"x":{"field":"c","type":"nominal","scale":{"type":"point","range":[409,409]},"axis":null},"y":{"field":"line","type":"quantitative","scale":{"domain":[1,9],"range":[967,1065.5]},"axis":null},"text":{"field":"text"}}}
]
}
